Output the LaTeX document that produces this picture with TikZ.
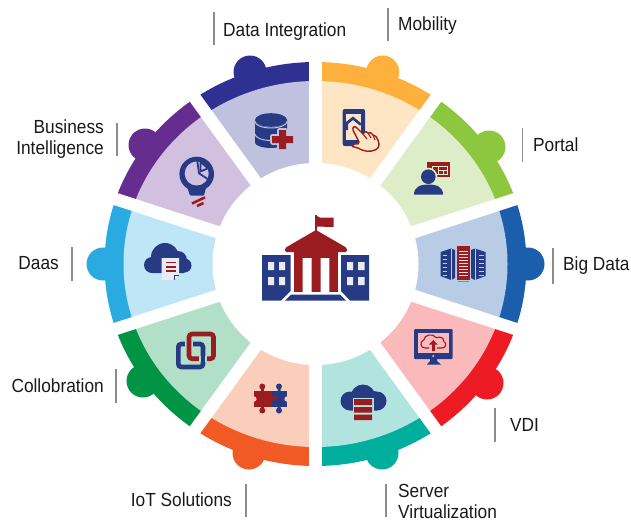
\documentclass[tikz,border=0pt]{standalone}
\usepackage{fontspec}
\setmainfont{Liberation Sans}[FakeStretch=0.91]
\usetikzlibrary{calc}
\definecolor{iblue}{HTML}{273B85}
\definecolor{ired}{HTML}{9B1C20}
\definecolor{tickgray}{HTML}{8C8C8C}
\definecolor{dData}{HTML}{2E3192}\definecolor{lData}{HTML}{BFC1DF}
\definecolor{dMob}{HTML}{FDB03B}\definecolor{lMob}{HTML}{FEE5C3}
\definecolor{dPor}{HTML}{8DC63F}\definecolor{lPor}{HTML}{DDEDC7}
\definecolor{dBig}{HTML}{1B5EAB}\definecolor{lBig}{HTML}{B8CCE6}
\definecolor{dVdi}{HTML}{ED1C24}\definecolor{lVdi}{HTML}{FAB9BB}
\definecolor{dSrv}{HTML}{00AE9D}\definecolor{lSrv}{HTML}{B2E4DF}
\definecolor{dIot}{HTML}{F15A25}\definecolor{lIot}{HTML}{FBCDBB}
\definecolor{dCol}{HTML}{009444}\definecolor{lCol}{HTML}{B2DFC7}
\definecolor{dBus}{HTML}{662D91}\definecolor{lBus}{HTML}{D1C0DF}
\definecolor{dDaa}{HTML}{29ABE2}\definecolor{lDaa}{HTML}{BEE6F7}
\tikzset{
  lbl/.style={inner sep=0pt,font=\fontsize{19}{21}\selectfont,text=black!90,align=left},
  lblr/.style={lbl,align=right},
  tick/.style={draw=tickgray,line width=1.5pt},
  gapline/.style={draw=white,line width=12.5pt},
}
\newcommand{\wedgefill}[4]{%
  \begin{scope}
    \clip (315.5,264) -- ++(#1:450pt) -- ++(#1/2+#2/2:300pt) -- ($(315.5,264)+(#2:450pt)$) -- cycle;
    \fill[#3] (315.5,264) ellipse[x radius=211pt,y radius=202pt];
    \fill[#4] (315.5,264) ellipse[x radius=192pt,y radius=183pt];
  \end{scope}
}
\begin{document}
\begin{tikzpicture}[x=1pt,y=-1pt]
\useasboundingbox (0,0) rectangle (631,520);
\coordinate (c) at (315.5,264);
% tabs
\foreach \p/\col in {{(382.7,72)}/dMob,{(489,147)}/dPor,{(528,264)}/dBig,{(487,383)}/dVdi,{(382,453)}/dSrv,{(249,453)}/dIot,{(143,381)}/dCol,{(103,264)}/dDaa,{(145,145)}/dBus,{(250,72)}/dData}
  \fill[\col] \p circle[radius=16.5pt];
% sectors
\wedgefill{90}{54}{dMob}{lMob}
\wedgefill{54}{18}{dPor}{lPor}
\wedgefill{18}{-18}{dBig}{lBig}
\wedgefill{-18}{-54}{dVdi}{lVdi}
\wedgefill{-54}{-90}{dSrv}{lSrv}
\wedgefill{-90}{-126}{dIot}{lIot}
\wedgefill{-126}{-162}{dCol}{lCol}
\wedgefill{-162}{-198}{dDaa}{lDaa}
\wedgefill{-198}{-234}{dBus}{lBus}
\wedgefill{-234}{-270}{dData}{lData}
\fill[white] (c) ellipse[x radius=103pt,y radius=101pt];
% gaps
\foreach \a in {90,54,18,-18,-54}
  \draw[gapline] ($(c)+(\a:240pt)$) -- ($(c)+(\a+180:240pt)$);
% ---- centre building
\fill[ired] (315.2,215) rectangle (317.2,233);
\fill[ired] (316,215.5) -- (320,217.5) -- (333.5,217.5) -- (333.5,227) -- (316,226.5) -- cycle;
\fill[ired,rounded corners=1.5pt] (316,230) -- (347,248) -- (347,252) -- (285,252) -- (285,248) -- cycle;
\fill[ired] (294,250) rectangle (338,291.5);
\fill[white] (302.7,258) rectangle (311.7,292) (320.7,258) rectangle (329.3,292);
\fill[iblue] (262,255) -- (290.5,255) -- (290.5,291) -- (281,300.5) -- (262,300.5) -- cycle;
\fill[iblue] (369,255) -- (341,255) -- (341,291) -- (350,300.5) -- (369,300.5) -- cycle;
\fill[iblue] (285,300.5) -- (291,294.5) -- (340,294.5) -- (346,300.5) -- cycle;
\fill[white!90!iblue] (268,262) rectangle (274,270) (279,262) rectangle (285,270)
  (268,277) rectangle (274,285) (279,277) rectangle (285,285)
  (347,262) rectangle (353,270) (358,262) rectangle (364.5,270)
  (347,277) rectangle (353,285) (358,277) rectangle (364.5,285);
% ---- data integration icon
\fill[iblue] (255,120) arc[start angle=180,end angle=360,x radius=16pt,y radius=7pt] -- (287,143) -- (255,143) -- cycle;
\fill[iblue] (271,120) ellipse[x radius=16pt,y radius=6.8pt];
\fill[iblue] (271,142.5) ellipse[x radius=16pt,y radius=5.5pt];
\draw[lData,line width=1pt] (255,121.5) arc[start angle=180,end angle=360,x radius=16pt,y radius=6.5pt];
\draw[lData,line width=1pt] (255,134) arc[start angle=180,end angle=360,x radius=16pt,y radius=6.5pt];
\draw[lData,line width=3.5pt,line join=round] (272,136) -- (279,136) -- (279,130) -- (286,130) -- (286,136) -- (293,136) -- (293,143) -- (286,143) -- (286,149) -- (279,149) -- (279,143) -- (272,143) -- cycle;
\fill[ired] (272,136) rectangle (293,143) (279,130) rectangle (286,149);
% ---- mobility icon
\fill[iblue,rounded corners=2pt] (342.7,109) rectangle (365,146);
\fill[lMob] (346,114) rectangle (361,140);
\fill[iblue] (346,122) -- (353,116.5) -- (362,124) -- (360,125.5) -- (353,120) -- (348,124) -- (348,130) -- (346,130) -- cycle;
\fill[lMob,draw=ired,line width=1.4pt,line join=round]
  (353,130) .. controls (352,127) and (355,125.5) .. (357,128) -- (363,134)
  .. controls (365,131) and (367,131) .. (368,133) .. controls (370,132) and (372,133) .. (373,135)
  .. controls (375,135) and (377,137) .. (378,140) .. controls (380,146) and (379,148) .. (375,150)
  .. controls (370,152) and (365,152) .. (358,148) -- (352.5,146.5)
  .. controls (352,145) and (354,143.5) .. (358,144) -- (359,142) -- cycle;
\draw[ired,line width=1.1pt] (363,134) -- (367,139) (368,133) -- (371,138) (373,135) -- (375,140);
% ---- portal icon
\fill[ired] (426.7,161.7) rectangle (450,177);
\draw[lPor,line width=.9pt] (432,166) rectangle (447,174) (438,166) -- (438,174) (443,170) -- (443,174) (438,170) -- (447,170);
\fill[lPor] (428.3,176.7) circle[radius=9pt];
\fill[iblue] (428.3,176.7) circle[radius=7.3pt];
\fill[iblue] (414,194.5) .. controls (414,187) and (420,184.5) .. (428.5,184.5) .. controls (437,184.5) and (443,187) .. (443,194.5) -- cycle;
% ---- big data icon
\fill[iblue] (440.5,252) -- (451,248.5) -- (455,250) -- (455,278) -- (451,280) -- (440.5,276) -- cycle;
\fill[iblue] (485.5,252) -- (475,248.5) -- (471,250) -- (471,278) -- (475,280) -- (485.5,276) -- cycle;
\fill[ired] (457,245.5) rectangle (469.7,279.5);
\fill[iblue!45!lBig] (458,280.5) rectangle (468.7,281.5);
\foreach \y in {251,254,257,260,263,266,269,272,275}
  \draw[white!85!ired,line width=.8pt] (459,\y) -- (467.5,\y);
\foreach \y in {255,259,263,267,271,275}
  \draw[lBig,line width=.8pt] (442.5,\y) -- (447,\y) (479,\y) -- (483.5,\y);
\draw[lBig,line width=.6pt] (451,249) -- (451,280) (475,249) -- (475,280);
% ---- VDI icon
\fill[iblue,rounded corners=1pt] (414,329) rectangle (452.7,359);
\fill[lVdi] (418,333) rectangle (449,353);
\fill[lVdi] (433.3,356) circle[radius=1.1pt];
\fill[iblue] (430,359) -- (437,359) -- (437,361) -- (441,364.5) -- (427,364.5) -- (430,361) -- cycle;
\draw[ired,line width=1.1pt,rounded corners=1pt] (429,348) -- (426,348)
  .. controls (420,348) and (420,341) .. (424,340.5)
  .. controls (424,335) and (433,333) .. (436,338)
  .. controls (441,336) and (444,339) .. (443,341)
  .. controls (447,343) and (446,348) .. (441,348) -- (437,348);
\fill[ired] (433.3,340) -- (437.5,344.5) -- (435,344.5) -- (435,351) -- (432,351) -- (432,344.5) -- (429,344.5) -- cycle;
% ---- server icon
\fill[iblue] (363,397) circle[radius=12.5pt] (350,401) circle[radius=9.5pt] (377,401) circle[radius=9.5pt] (374,398) circle[radius=7pt] (350,398) rectangle (377,410.5);
\fill[lSrv] (352.5,398) rectangle (373.5,421);
\fill[ired] (354,399) rectangle (372,405) (354,407) rectangle (372,412.5) (354,414.5) rectangle (372,420);
% ---- IoT icon
\fill[ired] (254,391) rectangle (272,407);
\fill[ired] (262.3,386.5) circle[radius=3pt] (262.3,410.5) circle[radius=3pt];
\fill[ired] (260.8,388) rectangle (263.8,392) (260.8,406) rectangle (263.8,409);
\fill[iblue] (272,391) rectangle (287,407);
\fill[iblue] (279,386.5) circle[radius=3pt] (279,410.5) circle[radius=3pt];
\fill[iblue] (277.5,388) rectangle (280.5,392) (277.5,406) rectangle (280.5,409);
\fill[lIot] (287,399) circle[radius=2.6pt] (254,399) circle[radius=2.6pt];
\fill[ired] (274.5,398.5) circle[radius=2.6pt];
% ---- collaboration icon
\draw[iblue,line width=4.6pt,rounded corners=3pt] (178.3,344) rectangle (203,367);
\draw[lCol,line width=8pt] (189,341) -- (189,347);
\draw[ired,line width=4.6pt,rounded corners=3pt] (189,334) rectangle (213.5,358.7);
\draw[lCol,line width=8pt] (203,355.5) -- (203,362);
\draw[iblue,line width=4.6pt] (203,349) -- (203,364);
% ---- Daas icon
\fill[iblue] (165,257) circle[radius=14pt] (152,265) circle[radius=8pt] (178,260) circle[radius=9pt] (184.5,265.5) circle[radius=7pt] (152,262) rectangle (184,273);
\fill[iblue!10!white] (161.7,258) -- (179,258) -- (179,275) -- (174,280) -- (161.7,280) -- cycle;
\draw[iblue,line width=.5pt] (179,275) -- (174,275) -- (174,280);
\draw[ired,line width=1.3pt] (166,262.5) -- (176,262.5) (166,267) -- (176,267) (166,271) -- (176,271);
% ---- BI icon
\fill[iblue,rounded corners=1pt] (186,184) -- (207,184) -- (204,195.5) -- (190,195.5) -- cycle;
\fill[iblue] (196.7,174) circle[radius=17.3pt];
\fill[lBus] (196.7,173.5) circle[radius=12pt];
\draw[iblue,line width=1.8pt,line join=round] (197.3,161) -- (199,173.3) -- (207.7,179);
\draw[iblue,line width=1.8pt,line join=round] (200.5,162) -- (208,168.3) -- (200.5,171.5) -- cycle;
\draw[ired,line width=2.5pt] (192,203.5) -- (205,197.3) (197,206) -- (203.5,203);
% ---- ticks and labels
\draw[tick] (214,12) -- (214,45);
\node[lbl,anchor=base west] (n1) at (223,36) {Data Integration};
\draw[tick] (388,8) -- (388,41);
\node[lbl,anchor=base west] (n2) at (398,30) {Mobility};
\draw[tick] (522.5,128) -- (522.5,162);
\node[lbl,anchor=base west] (n3) at (533,151) {Portal};
\draw[tick] (553,248) -- (553,284);
\node[lbl,anchor=base west] (n4) at (563,270) {Big Data};
\draw[tick] (495,408) -- (495,442);
\node[lbl,anchor=base west] (n5) at (510,431) {VDI};
\draw[tick] (386,484) -- (386,517);
\node[lbl,anchor=west] (n6) at (398,501) {Server\\Virtualization};
\draw[tick] (246,484) -- (246,517);
\node[lblr,anchor=base east] (n7) at (232,506) {IoT Solutions};
\draw[tick] (116,369) -- (116,403);
\node[lblr,anchor=base east] (n8) at (104,392) {Collobration};
\draw[tick] (72,247) -- (72,281);
\node[lblr,anchor=base east] (n9) at (59,269) {Daas};
\draw[tick] (117,123) -- (117,156);
\node[lblr,anchor=east] (n10) at (104,139.5) {Business\\Intelligence};
\end{tikzpicture}
\end{document}
